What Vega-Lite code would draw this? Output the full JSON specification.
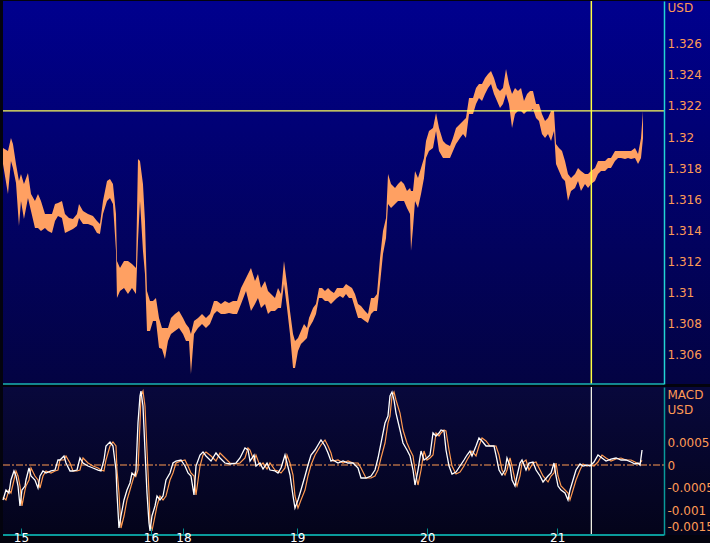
{
"$schema": "https://vega.github.io/schema/vega-lite/v6.json",
"padding": 0,
"background": "#03030e",
"spacing": 1,
"config": {"view": {"stroke": null}, "font": "DejaVu Sans", "axis": {"labelOverlap": false, "labelBound": false}},
"datasets": {
"one": [{"k": 1}],
"price": [
{"h":-3.32,"hi":1.31929,"lo":1.31826},{"h":-2.40,"hi":1.31910,"lo":1.31632},{"h":-1.85,"hi":1.31994,"lo":1.31845},{"h":-1.48,"hi":1.31955,"lo":1.31800},{"h":-0.92,"hi":1.31826,"lo":1.31703},{"h":-0.37,"hi":1.31716,"lo":1.31426},{"h":0,"hi":1.31761,"lo":1.31587},{"h":0.55,"hi":1.31697,"lo":1.31471},{"h":1.29,"hi":1.31768,"lo":1.31606},{"h":1.85,"hi":1.31632,"lo":1.31523},{"h":2.58,"hi":1.31587,"lo":1.31413},{"h":3.14,"hi":1.31632,"lo":1.31413},{"h":3.69,"hi":1.31587,"lo":1.31394},{"h":4.43,"hi":1.31503,"lo":1.31413},{"h":4.98,"hi":1.31503,"lo":1.31394},{"h":5.72,"hi":1.31503,"lo":1.31381},{"h":6.28,"hi":1.31568,"lo":1.31458},{"h":6.83,"hi":1.31574,"lo":1.31490},{"h":7.57,"hi":1.31587,"lo":1.31477},{"h":8.12,"hi":1.31503,"lo":1.31381},{"h":8.86,"hi":1.31477,"lo":1.31394},{"h":9.60,"hi":1.31471,"lo":1.31407},{"h":10.34,"hi":1.31503,"lo":1.31426},{"h":10.71,"hi":1.31568,"lo":1.31477},{"h":11.45,"hi":1.31523,"lo":1.31439},{"h":12.37,"hi":1.31503,"lo":1.31439},{"h":13.29,"hi":1.31490,"lo":1.31426},{"h":14.03,"hi":1.31458,"lo":1.31381},{"h":14.58,"hi":1.31439,"lo":1.31374},{"h":15.14,"hi":1.31587,"lo":1.31503},{"h":15.88,"hi":1.31716,"lo":1.31587},{"h":16.43,"hi":1.31729,"lo":1.31606},{"h":16.98,"hi":1.31697,"lo":1.31568},{"h":17.54,"hi":1.31503,"lo":1.31265},{"h":17.72,"hi":1.31200,"lo":1.30962},{"h":18.28,"hi":1.31155,"lo":1.31007},{"h":19.02,"hi":1.31200,"lo":1.31026},{"h":19.75,"hi":1.31200,"lo":1.30987},{"h":20.49,"hi":1.31181,"lo":1.31026},{"h":21.23,"hi":1.31155,"lo":1.30987},{"h":21.60,"hi":1.31858,"lo":1.31329},{"h":21.97,"hi":1.31845,"lo":1.31587},{"h":22.52,"hi":1.31697,"lo":1.31265},{"h":22.89,"hi":1.31458,"lo":1.31116},{"h":23.26,"hi":1.31007,"lo":1.30749},{"h":23.82,"hi":1.30942,"lo":1.30749},{"h":24.37,"hi":1.30942,"lo":1.30813},{"h":24.92,"hi":1.30962,"lo":1.30813},{"h":25.48,"hi":1.30833,"lo":1.30640},{"h":26.03,"hi":1.30768,"lo":1.30633},{"h":26.58,"hi":1.30768,"lo":1.30568},{"h":27.14,"hi":1.30768,"lo":1.30684},{"h":27.69,"hi":1.30833,"lo":1.30729},{"h":28.43,"hi":1.30858,"lo":1.30749},{"h":29.17,"hi":1.30878,"lo":1.30768},{"h":29.91,"hi":1.30833,"lo":1.30729},{"h":30.46,"hi":1.30794,"lo":1.30684},{"h":31.02,"hi":1.30768,"lo":1.30684},{"h":31.38,"hi":1.30729,"lo":1.30471},{"h":31.94,"hi":1.30813,"lo":1.30729},{"h":32.68,"hi":1.30833,"lo":1.30768},{"h":33.42,"hi":1.30858,"lo":1.30794},{"h":34.15,"hi":1.30833,"lo":1.30768},{"h":34.89,"hi":1.30858,"lo":1.30794},{"h":35.63,"hi":1.30942,"lo":1.30858},{"h":36.18,"hi":1.30942,"lo":1.30878},{"h":36.92,"hi":1.30923,"lo":1.30858},{"h":37.66,"hi":1.30942,"lo":1.30858},{"h":38.40,"hi":1.30929,"lo":1.30865},{"h":39.14,"hi":1.30942,"lo":1.30858},{"h":39.88,"hi":1.30942,"lo":1.30858},{"h":40.62,"hi":1.31026,"lo":1.30923},{"h":41.54,"hi":1.31090,"lo":1.31007},{"h":42.46,"hi":1.31155,"lo":1.30878},{"h":43.20,"hi":1.31071,"lo":1.30923},{"h":43.75,"hi":1.31116,"lo":1.30962},{"h":44.31,"hi":1.31026,"lo":1.30897},{"h":45.05,"hi":1.31071,"lo":1.30923},{"h":45.60,"hi":1.31007,"lo":1.30858},{"h":46.15,"hi":1.30987,"lo":1.30878},{"h":46.89,"hi":1.30962,"lo":1.30878},{"h":47.45,"hi":1.31026,"lo":1.30897},{"h":48.00,"hi":1.30987,"lo":1.30897},{"h":48.55,"hi":1.31200,"lo":1.31052},{"h":49.11,"hi":1.31052,"lo":1.30897},{"h":49.66,"hi":1.30878,"lo":1.30729},{"h":50.22,"hi":1.30729,"lo":1.30510},{"h":50.59,"hi":1.30684,"lo":1.30510},{"h":51.14,"hi":1.30704,"lo":1.30620},{"h":51.69,"hi":1.30749,"lo":1.30665},{"h":52.25,"hi":1.30794,"lo":1.30684},{"h":52.80,"hi":1.30768,"lo":1.30704},{"h":53.17,"hi":1.30833,"lo":1.30768},{"h":53.91,"hi":1.30897,"lo":1.30813},{"h":54.46,"hi":1.30923,"lo":1.30858},{"h":55.02,"hi":1.31026,"lo":1.30962},{"h":55.57,"hi":1.31026,"lo":1.30962},{"h":56.12,"hi":1.31007,"lo":1.30942},{"h":56.68,"hi":1.31026,"lo":1.30942},{"h":57.23,"hi":1.31007,"lo":1.30923},{"h":57.78,"hi":1.30994,"lo":1.30942},{"h":58.34,"hi":1.31026,"lo":1.30962},{"h":58.89,"hi":1.31026,"lo":1.30974},{"h":59.45,"hi":1.31026,"lo":1.30962},{"h":60.00,"hi":1.31052,"lo":1.30987},{"h":60.55,"hi":1.31039,"lo":1.30962},{"h":61.11,"hi":1.31026,"lo":1.30962},{"h":61.66,"hi":1.30987,"lo":1.30897},{"h":62.22,"hi":1.30923,"lo":1.30833},{"h":62.77,"hi":1.30910,"lo":1.30833},{"h":63.51,"hi":1.30878,"lo":1.30813},{"h":64.06,"hi":1.30858,"lo":1.30800},{"h":64.62,"hi":1.30962,"lo":1.30858},{"h":65.17,"hi":1.30962,"lo":1.30878},{"h":65.72,"hi":1.30987,"lo":1.30878},{"h":66.28,"hi":1.31220,"lo":1.31052},{"h":66.83,"hi":1.31394,"lo":1.31245},{"h":67.39,"hi":1.31477,"lo":1.31349},{"h":67.76,"hi":1.31761,"lo":1.31568},{"h":68.31,"hi":1.31697,"lo":1.31542},{"h":69.05,"hi":1.31671,"lo":1.31568},{"h":69.60,"hi":1.31697,"lo":1.31587},{"h":70.16,"hi":1.31716,"lo":1.31587},{"h":70.71,"hi":1.31697,"lo":1.31587},{"h":71.26,"hi":1.31652,"lo":1.31542},{"h":71.82,"hi":1.31671,"lo":1.31503},{"h":72.00,"hi":1.31652,"lo":1.31265},{"h":72.37,"hi":1.31652,"lo":1.31413},{"h":72.74,"hi":1.31781,"lo":1.31587},{"h":73.29,"hi":1.31736,"lo":1.31542},{"h":73.85,"hi":1.31800,"lo":1.31632},{"h":74.40,"hi":1.31865,"lo":1.31736},{"h":74.77,"hi":1.31974,"lo":1.31865},{"h":75.32,"hi":1.32039,"lo":1.31910},{"h":76.06,"hi":1.32058,"lo":1.31929},{"h":76.62,"hi":1.32155,"lo":1.32039},{"h":77.17,"hi":1.32058,"lo":1.31910},{"h":77.91,"hi":1.31974,"lo":1.31865},{"h":78.46,"hi":1.31955,"lo":1.31865},{"h":79.20,"hi":1.31942,"lo":1.31865},{"h":79.75,"hi":1.31994,"lo":1.31910},{"h":80.31,"hi":1.32058,"lo":1.31955},{"h":81.05,"hi":1.32084,"lo":1.31994},{"h":81.60,"hi":1.32103,"lo":1.32019},{"h":82.15,"hi":1.32123,"lo":1.31994},{"h":82.71,"hi":1.32252,"lo":1.32148},{"h":83.45,"hi":1.32252,"lo":1.32148},{"h":84.00,"hi":1.32316,"lo":1.32213},{"h":84.55,"hi":1.32342,"lo":1.32252},{"h":85.11,"hi":1.32342,"lo":1.32232},{"h":85.66,"hi":1.32381,"lo":1.32277},{"h":86.22,"hi":1.32406,"lo":1.32316},{"h":86.77,"hi":1.32426,"lo":1.32342},{"h":87.32,"hi":1.32381,"lo":1.32277},{"h":87.88,"hi":1.32316,"lo":1.32232},{"h":88.43,"hi":1.32297,"lo":1.32187},{"h":88.98,"hi":1.32316,"lo":1.32213},{"h":89.54,"hi":1.32439,"lo":1.32277},{"h":90.09,"hi":1.32342,"lo":1.32213},{"h":90.65,"hi":1.32277,"lo":1.32058},{"h":91.20,"hi":1.32316,"lo":1.32148},{"h":91.75,"hi":1.32297,"lo":1.32168},{"h":92.31,"hi":1.32316,"lo":1.32168},{"h":92.86,"hi":1.32232,"lo":1.32148},{"h":93.42,"hi":1.32277,"lo":1.32168},{"h":93.97,"hi":1.32297,"lo":1.32168},{"h":94.52,"hi":1.32297,"lo":1.32181},{"h":95.08,"hi":1.32213,"lo":1.32123},{"h":95.63,"hi":1.32213,"lo":1.32103},{"h":96.18,"hi":1.32148,"lo":1.32019},{"h":96.74,"hi":1.32103,"lo":1.31994},{"h":97.29,"hi":1.32123,"lo":1.32019},{"h":97.85,"hi":1.32168,"lo":1.31974},{"h":98.40,"hi":1.32168,"lo":1.32039},{"h":98.77,"hi":1.31955,"lo":1.31826},{"h":99.32,"hi":1.31929,"lo":1.31781},{"h":99.88,"hi":1.31910,"lo":1.31736},{"h":100.43,"hi":1.31845,"lo":1.31716},{"h":100.98,"hi":1.31761,"lo":1.31587},{"h":101.54,"hi":1.31736,"lo":1.31652},{"h":102.28,"hi":1.31761,"lo":1.31671},{"h":102.83,"hi":1.31800,"lo":1.31716},{"h":103.38,"hi":1.31781,"lo":1.31652},{"h":104.12,"hi":1.31761,"lo":1.31697},{"h":104.68,"hi":1.31761,"lo":1.31671},{"h":105.23,"hi":1.31781,"lo":1.31697},{"h":105.97,"hi":1.31800,"lo":1.31716},{"h":106.52,"hi":1.31845,"lo":1.31761},{"h":107.08,"hi":1.31845,"lo":1.31781},{"h":107.82,"hi":1.31845,"lo":1.31781},{"h":108.37,"hi":1.31865,"lo":1.31800},{"h":108.92,"hi":1.31865,"lo":1.31800},{"h":109.66,"hi":1.31910,"lo":1.31845},{"h":110.22,"hi":1.31910,"lo":1.31865},{"h":110.77,"hi":1.31910,"lo":1.31865},{"h":111.51,"hi":1.31910,"lo":1.31858},{"h":112.06,"hi":1.31910,"lo":1.31865},{"h":112.62,"hi":1.31910,"lo":1.31858},{"h":113.35,"hi":1.31929,"lo":1.31865},{"h":113.91,"hi":1.31890,"lo":1.31826},{"h":114.46,"hi":1.31994,"lo":1.31865},{"h":114.83,"hi":1.32168,"lo":1.31994}
],
"macd": [
{"h":-3.32,"m":-0.000761,"s":-0.00070},{"h":-2.77,"m":-0.000544,"s":-0.000761},{"h":-2.22,"m":-0.000609,"s":-0.000544},{"h":-1.85,"m":-0.000326,"s":-0.000609},{"h":-1.29,"m":-0.000130,"s":-0.000326},{"h":-0.92,"m":-0.000239,"s":-0.000130},{"h":-0.55,"m":-0.000457,"s":-0.000239},{"h":-0.18,"m":-0.000891,"s":-0.000457},{"h":0.18,"m":-0.000544,"s":-0.000891},{"h":0.74,"m":-0.000457,"s":-0.000544},{"h":0.92,"m":-0.000326,"s":-0.000457},{"h":1.48,"m":-0.000065,"s":-0.000326},{"h":1.85,"m":-0.000239,"s":-0.000065},{"h":2.58,"m":-0.000326,"s":-0.000239},{"h":3.14,"m":-0.000500,"s":-0.000326},{"h":3.51,"m":-0.000239,"s":-0.000500},{"h":4.06,"m":-0.000130,"s":-0.000239},{"h":4.62,"m":-0.000174,"s":-0.000130},{"h":5.54,"m":-0.000130,"s":-0.000174},{"h":6.28,"m":-0.000109,"s":-0.000130},{"h":6.83,"m":0.000109,"s":-0.000109},{"h":7.20,"m":0.000109,"s":0.000109},{"h":7.94,"m":0.000196,"s":0.000109},{"h":8.31,"m":0.000043,"s":0.000196},{"h":9.05,"m":-0.000130,"s":0.000043},{"h":9.60,"m":-0.000130,"s":-0.000130},{"h":10.34,"m":-0.000109,"s":-0.000130},{"h":10.89,"m":0.000152,"s":-0.000109},{"h":11.45,"m":0.000043,"s":0.000152},{"h":12.37,"m":-0.000022,"s":0.000043},{"h":13.29,"m":-0.000065,"s":-0.000022},{"h":14.22,"m":-0.000109,"s":-0.000065},{"h":14.77,"m":-0.000130,"s":-0.000109},{"h":15.32,"m":0.000109,"s":-0.000130},{"h":15.69,"m":0.000413,"s":0.000109},{"h":16.43,"m":0.000500,"s":0.000413},{"h":16.98,"m":0.000413,"s":0.000500},{"h":17.54,"m":-0.000109,"s":0.000413},{"h":17.72,"m":-0.000609,"s":-0.000109},{"h":18.09,"m":-0.001370,"s":-0.000609},{"h":18.46,"m":-0.001109,"s":-0.001370},{"h":19.02,"m":-0.000761,"s":-0.001109},{"h":19.57,"m":-0.000544,"s":-0.000761},{"h":20.12,"m":-0.000391,"s":-0.000544},{"h":20.49,"m":-0.000174,"s":-0.000391},{"h":21.05,"m":-0.000239,"s":-0.000174},{"h":21.23,"m":-0.000109,"s":-0.000239},{"h":21.60,"m":0.000913,"s":-0.000109},{"h":21.97,"m":0.001500,"s":0.000913},{"h":22.15,"m":0.001609,"s":0.001500},{"h":22.52,"m":0.001283,"s":0.001609},{"h":22.89,"m":0.000326,"s":0.001283},{"h":23.26,"m":-0.000609,"s":0.000326},{"h":23.63,"m":-0.001261,"s":-0.000609},{"h":23.82,"m":-0.001435,"s":-0.001261},{"h":24.18,"m":-0.001109,"s":-0.001435},{"h":24.74,"m":-0.000891,"s":-0.001109},{"h":25.11,"m":-0.000674,"s":-0.000891},{"h":25.66,"m":-0.000761,"s":-0.000674},{"h":26.22,"m":-0.000674,"s":-0.000761},{"h":26.77,"m":-0.000326,"s":-0.000674},{"h":27.51,"m":-0.000174,"s":-0.000326},{"h":28.06,"m":0.000043,"s":-0.000174},{"h":28.62,"m":0.000087,"s":0.000043},{"h":29.54,"m":0.000109,"s":0.000087},{"h":30.28,"m":-0.000022,"s":0.000109},{"h":30.83,"m":-0.000174,"s":-0.000022},{"h":31.38,"m":-0.000239,"s":-0.000174},{"h":31.94,"m":-0.000652,"s":-0.000239},{"h":32.31,"m":-0.000022,"s":-0.000652},{"h":33.05,"m":0.000217,"s":-0.000022},{"h":33.60,"m":0.000283,"s":0.000217},{"h":34.15,"m":0.000196,"s":0.000283},{"h":35.08,"m":0.000087,"s":0.000196},{"h":36.00,"m":0.000261,"s":0.000087},{"h":36.74,"m":0.000152,"s":0.000261},{"h":37.66,"m":0.000043,"s":0.000152},{"h":38.58,"m":0.000022,"s":0.000043},{"h":39.69,"m":0.000043,"s":0.000022},{"h":40.43,"m":0.000152,"s":0.000043},{"h":41.35,"m":0.000370,"s":0.000152},{"h":41.91,"m":0.000326,"s":0.000370},{"h":42.28,"m":0.000087,"s":0.000326},{"h":43.02,"m":0.000217,"s":0.000087},{"h":43.38,"m":-0.000022,"s":0.000217},{"h":44.12,"m":0.000043,"s":-0.000022},{"h":44.68,"m":-0.000087,"s":0.000043},{"h":45.42,"m":0.000043,"s":-0.000087},{"h":45.97,"m":-0.000109,"s":0.000043},{"h":46.89,"m":-0.000130,"s":-0.000109},{"h":47.45,"m":-0.000174,"s":-0.000130},{"h":48.00,"m":-0.000065,"s":-0.000174},{"h":48.74,"m":0.000217,"s":-0.000065},{"h":49.11,"m":0.000043,"s":0.000217},{"h":49.66,"m":-0.000217,"s":0.000043},{"h":50.22,"m":-0.000674,"s":-0.000217},{"h":50.58,"m":-0.000935,"s":-0.000674},{"h":51.14,"m":-0.000761,"s":-0.000935},{"h":51.69,"m":-0.000544,"s":-0.000761},{"h":52.43,"m":-0.000239,"s":-0.000544},{"h":52.98,"m":0,"s":-0.000239},{"h":53.54,"m":0.000217,"s":0},{"h":54.28,"m":0.000326,"s":0.000217},{"h":54.83,"m":0.000435,"s":0.000326},{"h":55.38,"m":0.000544,"s":0.000435},{"h":56.12,"m":0.000413,"s":0.000544},{"h":56.68,"m":0.000261,"s":0.000413},{"h":57.23,"m":0.000087,"s":0.000261},{"h":57.60,"m":0.000109,"s":0.000087},{"h":58.52,"m":0.000043,"s":0.000109},{"h":59.45,"m":0.000087,"s":0.000043},{"h":60.37,"m":0.000043,"s":0.000087},{"h":61.29,"m":0.000043,"s":0.000043},{"h":62.22,"m":-0.000065,"s":0.000043},{"h":62.77,"m":-0.000283,"s":-0.000065},{"h":63.69,"m":-0.000283,"s":-0.000283},{"h":64.62,"m":-0.000239,"s":-0.000283},{"h":65.35,"m":-0.000109,"s":-0.000239},{"h":65.91,"m":0.000152,"s":-0.000109},{"h":66.46,"m":0.000478,"s":0.000152},{"h":67.20,"m":0.000913,"s":0.000478},{"h":67.75,"m":0.001065,"s":0.000913},{"h":68.12,"m":0.001500,"s":0.001065},{"h":68.49,"m":0.001587,"s":0.001500},{"h":68.86,"m":0.001413,"s":0.001587},{"h":69.23,"m":0.001130,"s":0.001413},{"h":69.97,"m":0.000761,"s":0.001130},{"h":70.52,"m":0.000478,"s":0.000761},{"h":71.26,"m":0.000326,"s":0.000478},{"h":71.82,"m":0.000196,"s":0.000326},{"h":72.37,"m":-0.000109,"s":0.000196},{"h":72.74,"m":-0.000435,"s":-0.000109},{"h":73.29,"m":-0.000109,"s":-0.000435},{"h":73.85,"m":0.000304,"s":-0.000109},{"h":74.40,"m":0.000109,"s":0.000304},{"h":74.95,"m":0.000152,"s":0.000109},{"h":75.51,"m":0.000217,"s":0.000152},{"h":76.06,"m":0.000696,"s":0.000217},{"h":76.62,"m":0.000630,"s":0.000696},{"h":77.17,"m":0.000696,"s":0.000630},{"h":77.54,"m":0.000761,"s":0.000696},{"h":78.09,"m":0.000739,"s":0.000761},{"h":78.46,"m":0.000326,"s":0.000739},{"h":79.02,"m":-0.000022,"s":0.000326},{"h":79.57,"m":-0.000196,"s":-0.000022},{"h":80.31,"m":-0.000152,"s":-0.000196},{"h":81.05,"m":-0.000022,"s":-0.000152},{"h":81.78,"m":0.000109,"s":-0.000022},{"h":82.34,"m":0.000217,"s":0.000109},{"h":82.89,"m":0.000304,"s":0.000217},{"h":83.26,"m":0.000196,"s":0.000304},{"h":84.00,"m":0.000413,"s":0.000196},{"h":84.55,"m":0.000587,"s":0.000413},{"h":85.11,"m":0.000522,"s":0.000587},{"h":85.85,"m":0.000413,"s":0.000522},{"h":86.58,"m":0.000413,"s":0.000413},{"h":87.32,"m":0.000413,"s":0.000413},{"h":87.69,"m":0.000217,"s":0.000413},{"h":88.25,"m":-0.000109,"s":0.000217},{"h":88.80,"m":-0.000217,"s":-0.000109},{"h":89.35,"m":-0.000109,"s":-0.000217},{"h":89.72,"m":0.000152,"s":-0.000109},{"h":90.28,"m":-0.000022,"s":0.000152},{"h":90.65,"m":-0.000326,"s":-0.000022},{"h":91.20,"m":-0.000457,"s":-0.000326},{"h":91.57,"m":-0.000239,"s":-0.000457},{"h":92.12,"m":0.000043,"s":-0.000239},{"h":92.49,"m":0.000109,"s":0.000043},{"h":93.23,"m":-0.000109,"s":0.000109},{"h":93.78,"m":0.000043,"s":-0.000109},{"h":94.52,"m":0.000065,"s":0.000043},{"h":95.08,"m":-0.000109,"s":0.000065},{"h":95.82,"m":-0.000239,"s":-0.000109},{"h":96.37,"m":-0.000370,"s":-0.000239},{"h":97.29,"m":-0.000239,"s":-0.000370},{"h":97.85,"m":-0.000174,"s":-0.000239},{"h":98.40,"m":0.000043,"s":-0.000174},{"h":98.77,"m":-0.000239,"s":0.000043},{"h":99.14,"m":-0.000457,"s":-0.000239},{"h":99.69,"m":-0.000544,"s":-0.000457},{"h":100.43,"m":-0.000609,"s":-0.000544},{"h":100.98,"m":-0.000761,"s":-0.000609},{"h":101.35,"m":-0.000544,"s":-0.000761},{"h":101.91,"m":-0.000326,"s":-0.000544},{"h":102.46,"m":-0.000109,"s":-0.000326},{"h":103.20,"m":0.000022,"s":-0.000109},{"h":103.75,"m":-0.000022,"s":0.000022},{"h":104.49,"m":0,"s":-0.000022},{"h":105.05,"m":-0.000022,"s":0},{"h":105.78,"m":0.000065,"s":-0.000022},{"h":106.52,"m":0.000217,"s":0.000065},{"h":107.26,"m":0.000152,"s":0.000217},{"h":108.00,"m":0.000087,"s":0.000152},{"h":108.92,"m":0.000130,"s":0.000087},{"h":109.85,"m":0.000152,"s":0.000130},{"h":110.77,"m":0.000109,"s":0.000152},{"h":111.69,"m":0.000109,"s":0.000109},{"h":112.62,"m":0.000065,"s":0.000109},{"h":113.35,"m":0.000022,"s":0.000065},{"h":113.91,"m":0.000043,"s":0.000022},{"h":114.28,"m":0,"s":0.000043},{"h":114.65,"m":0.000326,"s":0.000100}
]
},
"vconcat": [
{
"width": 710,
"height": 383,
"layer": [
{"data": {"name": "one"}, "mark": {"type": "rect", "fill": {"gradient": "linear", "x1": 0, "y1": 0, "x2": 0, "y2": 1, "stops": [{"offset": 0, "color": "#00008e"}, {"offset": 1, "color": "#030342"}]}},
 "encoding": {
  "x": {"datum": -3.32, "type": "quantitative", "scale": {"domain": [-3.32, 127.75], "nice": false, "zero": false}, "axis": null},
  "x2": {"datum": 127.75},
  "y": {"datum": 1.304065, "type": "quantitative", "scale": {"domain": [1.304065, 1.328774], "nice": false, "zero": false},
   "axis": {"orient": "right", "offset": -49, "zindex": 2, "tickCount": 30, "values": [1.306, 1.308, 1.31, 1.312, 1.314, 1.316, 1.318, 1.32, 1.322, 1.324, 1.326], "labelExpr": "'' + datum.value", "labelOverlap": false, "labelColor": "#ff9a55", "labelFont": "DejaVu Sans", "labelFontSize": 12, "labelPadding": 3, "ticks": false, "grid": false, "domainColor": "#22d4d4", "domainWidth": 1.5, "title": "USD", "titleAngle": 0, "titleAlign": "left", "titleBaseline": "top", "titleX": 3, "titleY": 1, "titleColor": "#ff9a55", "titleFont": "DejaVu Sans", "titleFontSize": 12, "titleFontWeight": "normal"}},
  "y2": {"datum": 1.328774}
 }},
{"data": {"name": "price"}, "mark": {"type": "area", "color": "#ffa062", "opacity": 1},
 "encoding": {
  "x": {"field": "h", "type": "quantitative"},
  "y": {"field": "lo", "type": "quantitative"},
  "y2": {"field": "hi"}
 }},
{"data": {"name": "one"}, "mark": {"type": "rule", "color": "#ffff5a", "strokeWidth": 1.2},
 "encoding": {"y": {"datum": 1.32168, "type": "quantitative"}, "x": {"datum": -3.32, "type": "quantitative"}, "x2": {"datum": 118.71}}},
{"data": {"name": "one"}, "mark": {"type": "rule", "color": "#ffff40", "strokeWidth": 1.5},
 "encoding": {"x": {"datum": 105.29, "type": "quantitative"}}},
{"data": {"name": "one"}, "mark": {"type": "rule", "color": "#1ab4b4", "strokeWidth": 1.5},
 "encoding": {"y": {"datum": 1.304065, "type": "quantitative"}, "x": {"datum": -3.32, "type": "quantitative"}, "x2": {"datum": 118.71}}}
]
},
{
"width": 710,
"height": 148,
"layer": [
{"data": {"name": "one"}, "mark": {"type": "rect", "fill": {"gradient": "linear", "x1": 0, "y1": 0, "x2": 0, "y2": 1, "stops": [{"offset": 0, "color": "#08083c"}, {"offset": 1, "color": "#04041a"}]}},
 "encoding": {
  "x": {"datum": -3.32, "type": "quantitative", "scale": {"domain": [-3.32, 127.75], "nice": false, "zero": false},
   "axis": {"orient": "bottom", "zindex": 2, "tickCount": 30, "values": [0, 24, 30, 51, 75, 99], "labelExpr": "datum.value == 0 ? '15' : datum.value == 24 ? '16' : datum.value == 30 ? '18' : datum.value == 51 ? '19' : datum.value == 75 ? '20' : '21'", "labelOverlap": false, "labelColor": "#ffffff", "labelFont": "DejaVu Sans", "labelFontSize": 12, "labelPadding": 4, "tickColor": "#008e8e", "tickSize": -7, "domain": false, "grid": false, "title": null}},
  "x2": {"datum": 127.75},
  "y": {"datum": -0.001522, "type": "quantitative", "scale": {"domain": [-0.001522, 0.001696], "nice": false, "zero": false},
   "axis": {"orient": "right", "offset": -49, "zindex": 2, "tickCount": 30, "values": [0.0005, 0, -0.0005, -0.001, -0.0015], "labelExpr": "'' + datum.value", "labelOverlap": false, "labelColor": "#ff9a55", "labelFont": "DejaVu Sans", "labelFontSize": 12, "labelPadding": 3, "labelOffset": {"condition": {"test": "datum.value < -0.0012", "value": -7}, "value": 0}, "ticks": false, "grid": false, "domainColor": "#0a9a9a", "domainWidth": 1.5, "title": ["MACD", "USD"], "titleAngle": 0, "titleAlign": "left", "titleBaseline": "top", "titleX": 3, "titleY": 2, "titleLineHeight": 15, "titleColor": "#ff9a55", "titleFont": "DejaVu Sans", "titleFontSize": 12, "titleFontWeight": "normal"}},
  "y2": {"datum": 0.001696}
 }},
{"data": {"name": "one"}, "mark": {"type": "rule", "color": "#ff9a50", "strokeWidth": 1.2, "strokeDash": [7, 2, 2, 2]},
 "encoding": {"y": {"datum": 0, "type": "quantitative"}, "x": {"datum": -3.32, "type": "quantitative"}, "x2": {"datum": 118.71}}},
{"data": {"name": "macd"}, "mark": {"type": "line", "color": "#ff9a50", "strokeWidth": 1.2},
 "encoding": {"x": {"field": "h", "type": "quantitative"}, "y": {"field": "s", "type": "quantitative"}}},
{"data": {"name": "macd"}, "mark": {"type": "line", "color": "#ffffff", "strokeWidth": 1.3},
 "encoding": {"x": {"field": "h", "type": "quantitative"}, "y": {"field": "m", "type": "quantitative"}}},
{"data": {"name": "one"}, "mark": {"type": "rule", "color": "#fffff0", "strokeWidth": 1.2},
 "encoding": {"x": {"datum": 105.29, "type": "quantitative"}}},
{"data": {"name": "one"}, "mark": {"type": "rule", "color": "#0a9a9a", "strokeWidth": 2},
 "encoding": {"y": {"datum": -0.001522, "type": "quantitative"}, "x": {"datum": -3.32, "type": "quantitative"}, "x2": {"datum": 118.71}}}
]
}
]
}
